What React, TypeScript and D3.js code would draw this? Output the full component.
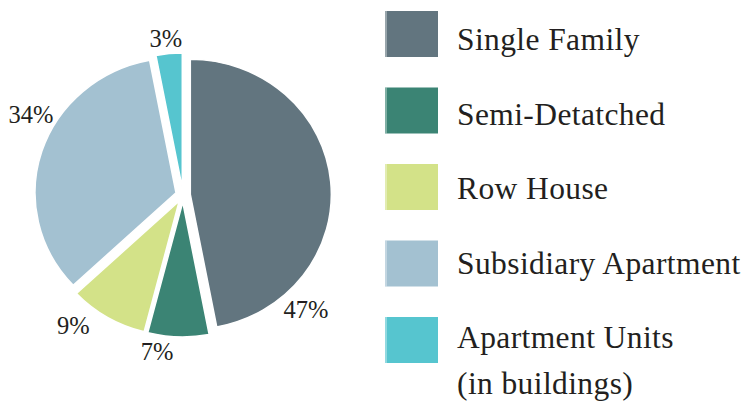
import React from "react";
import * as d3 from "d3";

const categories = ["Single Family", "Semi-Detatched", "Row House", "Subsidiary Apartment", "Apartment Units"];
const legendLines = [["Single Family"], ["Semi-Detatched"], ["Row House"], ["Subsidiary Apartment"], ["Apartment Units", "(in buildings)"]];
const values = [47, 7, 9, 34, 3];
const percentLabels = ["47%", "7%", "9%", "34%", "3%"];
const colors = ["#62757f", "#3b8474", "#d3e288", "#a3c1d1", "#56c5cf"];

// label placement: fraction along the slice's angular span, distance from centre
const labelFrac = [0.794, 0.786, 0.75, 0.588, 0.44];
const labelDist = [164.5, 159, 168, 166, 157];

const W = 748, H = 403;
const cx = 183, cy = 195, R = 135, sx = 1.045, explode = 7;

export default function App() {
  const pie = d3.pie<number>().sort(null).value((d) => d).startAngle(0).endAngle(2 * Math.PI);
  const arcs = pie(values);
  const arc = d3.arc<d3.PieArcDatum<number>>().innerRadius(0).outerRadius(R);

  const idx = d3.range(categories.length);
  const swatchY = d3.scalePoint<number>().domain(idx).range([11, 317]);
  const textY = d3.scalePoint<number>().domain(idx).range([50, 348]);

  return (
    <svg width={W} height={H} style={{ position: "absolute", left: 0, top: 0, background: "#fff" }} fontFamily="'Liberation Serif', serif">
      <g transform={`translate(${cx},${cy}) scale(${sx},1)`}>
        {arcs.map((a, i) => {
          const mid = (a.startAngle + a.endAngle) / 2;
          const dx = Math.sin(mid) * explode;
          const dy = -Math.cos(mid) * explode;
          return (
            <path key={i} d={arc(a) || ""} fill={colors[i]} stroke="#fff" strokeWidth={1.5} strokeLinejoin="round" transform={`translate(${dx},${dy})`} />
          );
        })}
      </g>
      {arcs.map((a, i) => {
        const ang = a.startAngle + labelFrac[i] * (a.endAngle - a.startAngle);
        const x = cx + Math.sin(ang) * labelDist[i] * sx;
        const y = cy - Math.cos(ang) * labelDist[i];
        return (
          <text key={i} x={x} y={y} dy="0.33em" textAnchor="middle" fontSize={24.5} fill="#231f20">
            {percentLabels[i]}
          </text>
        );
      })}
      {categories.map((c, i) => {
        const y0 = swatchY(i) as number;
        const tb = textY(i) as number;
        return (
          <g key={c}>
            <rect x={385} y={y0} width={53} height={46} fill={colors[i]} />
            <rect x={385} y={y0} width={2} height={46} fill="#fff" opacity={0.35} />
            {legendLines[i].map((line, j) => (
              <text key={j} x={457} y={tb + j * 46} fontSize={31.5} letterSpacing={0.4} fill="#231f20">
                {line}
              </text>
            ))}
          </g>
        );
      })}
    </svg>
  );
}
